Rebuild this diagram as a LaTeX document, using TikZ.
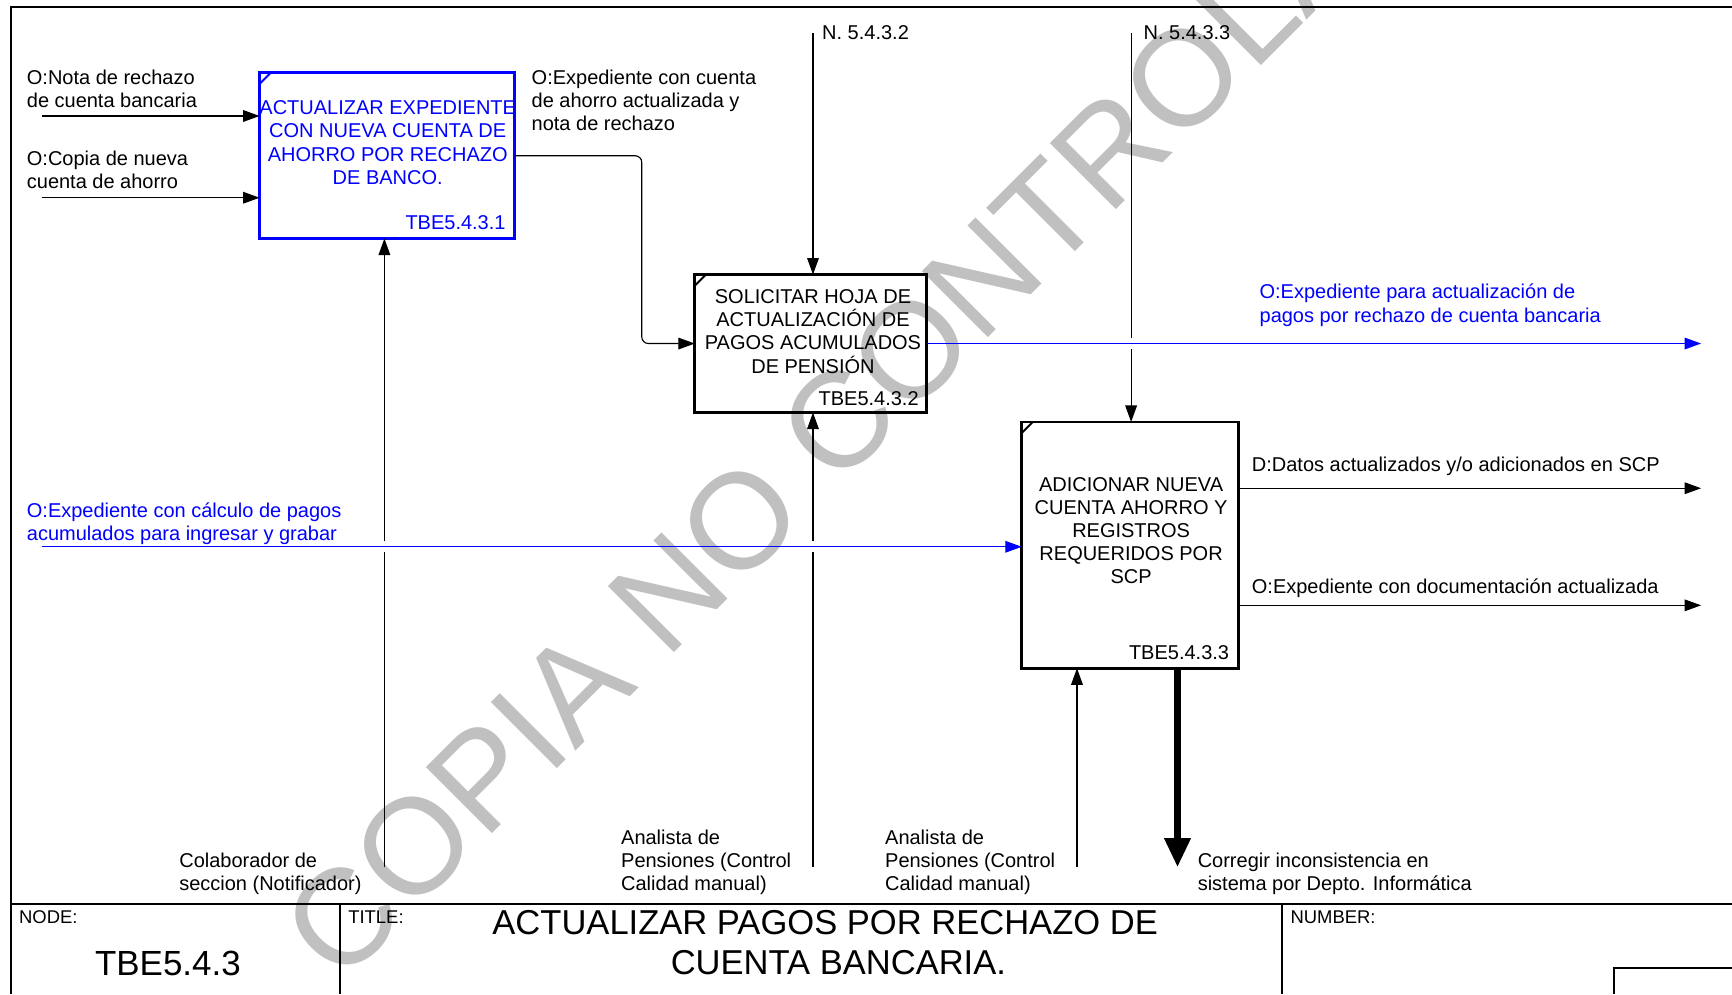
\documentclass[tikz,border=0pt]{standalone}
\usepackage{fontspec}
\setmainfont{Liberation Sans}
\usetikzlibrary{arrows.meta,calc}
\definecolor{idefblue}{RGB}{0,0,255}
\definecolor{marcagris}{RGB}{192,192,192}

\begin{document}
\begin{tikzpicture}[
        x=0.02cm, y=-0.02cm,
        every node/.style={inner sep=0pt},
        txt/.style={font=\fontsize{10.3}{11.9}\selectfont, align=left, anchor=north west},
        boxtxt/.style={font=\fontsize{10.3}{11.9}\selectfont, align=center, anchor=north},
        num/.style={font=\fontsize{10.3}{11.9}\selectfont, anchor=base east},
        lbl/.style={font=\fontsize{10.3}{11.9}\selectfont, anchor=base west},
        small/.style={font=\fontsize{9.5}{11}\selectfont, anchor=base west},
        box/.style={rectangle, draw, line width=1.5pt, outer sep=0pt},
        corner/.style={line width=1pt},
        wire/.style={line width=0.6pt},
        arrow/.style={-{Triangle[length=8.5pt, width=6pt]}, line width=0.6pt},
        callarrow/.style={-{Triangle[length=15pt, width=13pt]}, line width=3.4pt},
        frame/.style={line width=1pt}
    ]
        \useasboundingbox (0,0) rectangle (1568,900);
        \clip (0,0) rectangle (1568,900);

        % Watermark
        \node[rotate=45, text=marcagris, font=\fontsize{70}{84}\selectfont] (marca) at (805,336) {COPIA NO CONTROLADA};

        % Frame and title block
        \draw[frame] (10,900) -- (10,6) -- (1568,6);
        \draw[frame] (10,818) -- (1568,818);
        \draw[frame] (308,818) -- (308,900);
        \draw[frame] (1161,818) -- (1161,900);
        \draw[frame] (1461,900) -- (1461,876) -- (1568,876);
        \node[small] (node_lbl) at (17,836) {NODE:};
        \node[anchor=base, font=\fontsize{18}{20}\selectfont] (node_num) at (152,883) {TBE5.4.3};
        \node[small] (title_lbl) at (315,836) {TITLE:};
        \node[anchor=north, align=center, font=\fontsize{17.8}{20.5}\selectfont] (title_txt) at (747,824) {ACTUALIZAR PAGOS POR RECHAZO DE\\\hspace*{0.48cm}CUENTA BANCARIA.};
        \node[small] (number_lbl) at (1168,836) {NUMBER:};

        % Actualizar expediente
        \node[box, draw=idefblue, minimum width=4.62cm, minimum height=3cm] (act_exp) at (350.5,141) {};
        \draw[corner, idefblue] ($(act_exp.north west)+(0,10)$) -- ($(act_exp.north west)+(10,0)$);
        \node[boxtxt, text=idefblue] (act_exp_txt) at (351,91) {ACTUALIZAR EXPEDIENTE\\CON NUEVA CUENTA DE\\AHORRO POR RECHAZO\\DE BANCO.};
        \node[num, text=idefblue] (act_exp_id) at (458,208) {TBE5.4.3.1};

        % Solicitar hoja
        \node[box, minimum width=4.2cm, minimum height=2.5cm] (sol_hoja) at (734,311) {};
        \draw[corner] ($(sol_hoja.north west)+(0,10)$) -- ($(sol_hoja.north west)+(10,0)$);
        \node[boxtxt] (sol_hoja_txt) at (736,262) {SOLICITAR HOJA DE\\ACTUALIZACIÓN DE\\PAGOS ACUMULADOS\\DE PENSIÓN};
        \node[num] (sol_hoja_id) at (832,367) {TBE5.4.3.2};

        % Adicionar cuenta
        \node[box, minimum width=3.92cm, minimum height=4.46cm] (adic_cta) at (1023,493.5) {};
        \draw[corner] ($(adic_cta.north west)+(0,10)$) -- ($(adic_cta.north west)+(10,0)$);
        \node[boxtxt] (adic_cta_txt) at (1024,432) {ADICIONAR NUEVA\\CUENTA AHORRO Y\\REGISTROS\\REQUERIDOS POR\\SCP};
        \node[num] (adic_cta_id) at (1113,597) {TBE5.4.3.3};

        % Inputs
        \coordinate (in_nota) at (38,105);
        \coordinate (in_copia) at (38,179);
        \coordinate (in_calc) at (38,495);
        \draw[arrow] (in_nota) -- (in_nota -| act_exp.west);
        \node[txt] (nota_lbl) at (24,63) {O:Nota de rechazo\\de cuenta bancaria};
        \draw[arrow] (in_copia) -- (in_copia -| act_exp.west);
        \node[txt] (copia_lbl) at (24,136) {O:Copia de nueva\\cuenta de ahorro};
        \draw[arrow, draw=idefblue] (in_calc) -- (in_calc -| adic_cta.west);
        \node[txt, text=idefblue] (calc_lbl) at (24,455) {O:Expediente con cálculo de pagos\\acumulados para ingresar y grabar};

        % Expediente actualizado
        \draw[arrow, rounded corners=1.2mm] (act_exp.east) -| (581,311) -- (sol_hoja.west);
        \node[txt] (exp_lbl) at (481,63) {O:Expediente con cuenta\\de ahorro actualizada y\\nota de rechazo};

        % Controls
        \coordinate (ctl_two) at (736,30);
        \coordinate (ctl_three) at (1024,30);
        \draw[arrow] (ctl_two) -- (ctl_two |- sol_hoja.north);
        \node[lbl] (ctl_two_lbl) at (744,36) {N. 5.4.3.2};
        \draw[wire] (ctl_three) -- ($(ctl_three |- sol_hoja.east)+(0,-5)$);
        \draw[arrow] ($(ctl_three |- sol_hoja.east)+(0,5)$) -- (ctl_three |- adic_cta.north);
        \node[lbl] (ctl_three_lbl) at (1035,36) {N. 5.4.3.3};

        % Outputs
        \coordinate (out_pagos) at (1540,311);
        \coordinate (out_datos) at (1540,442);
        \coordinate (out_doc) at (1540,548);
        \draw[arrow, draw=idefblue] (sol_hoja.east) -- (out_pagos);
        \node[txt, text=idefblue] (pagos_lbl) at (1140,257) {O:Expediente para actualización de\\pagos por rechazo de cuenta bancaria};
        \draw[arrow] (adic_cta.east |- out_datos) -- (out_datos);
        \node[lbl] (datos_lbl) at (1133,427) {D:Datos actualizados y/o adicionados en SCP};
        \draw[arrow] (adic_cta.east |- out_doc) -- (out_doc);
        \node[lbl] (doc_lbl) at (1133,537) {O:Expediente con documentación actualizada};

        % Mechanisms
        \coordinate (mec_one) at (348,785);
        \coordinate (mec_two) at (736,785);
        \coordinate (mec_three) at (975,785);
        \draw[wire] (mec_one) -- ($(mec_one |- in_calc)+(0,5)$);
        \draw[arrow] ($(mec_one |- in_calc)+(0,-5)$) -- (mec_one |- act_exp.south);
        \node[txt] (mec_one_lbl) at (162,772) {Colaborador de\\seccion (Notificador)};
        \draw[wire] (mec_two) -- ($(mec_two |- in_calc)+(0,5)$);
        \draw[arrow] ($(mec_two |- in_calc)+(0,-5)$) -- (mec_two |- sol_hoja.south);
        \node[txt] (mec_two_lbl) at (562,751) {Analista de\\Pensiones (Control\\Calidad manual)};
        \draw[arrow] (mec_three) -- (mec_three |- adic_cta.south);
        \node[txt] (mec_three_lbl) at (801,751) {Analista de\\Pensiones (Control\\Calidad manual)};

        % Call
        \coordinate (call_inf) at (1066,785);
        \draw[callarrow] (adic_cta.south -| call_inf) -- (call_inf);
        \node[txt] (call_lbl) at (1084,772) {Corregir inconsistencia en\\sistema por Depto. Informática};

    \end{tikzpicture}
\end{document}
